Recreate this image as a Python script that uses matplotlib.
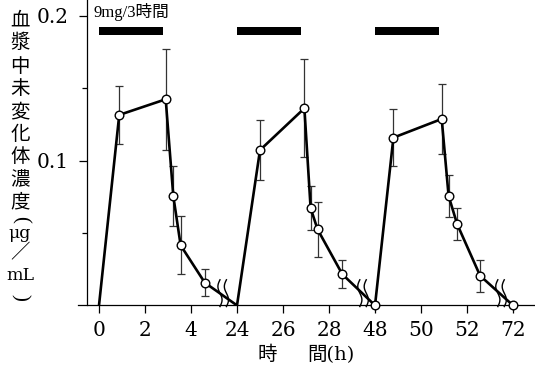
import numpy as np
import matplotlib
matplotlib.use("Agg")
import matplotlib.pyplot as plt

# ---- data ----
hours = [0, 0.88, 2.9, 3.23, 3.55, 4.6,
         24, 25.0, 26.93, 27.2, 27.5, 28.58,
         48, 48.8, 50.9, 51.2, 51.57, 52.57, 72]
conc = [0, 0.1316, 0.1424, 0.0756, 0.0415, 0.0157,
        0, 0.1073, 0.1362, 0.0673, 0.0526, 0.0215,
        0, 0.1159, 0.1288, 0.0756, 0.0562, 0.0205, 0]
sd = [0, 0.020, 0.035, 0.0205, 0.020, 0.0095,
      0, 0.0205, 0.034, 0.015, 0.019, 0.0097,
      0, 0.0195, 0.0245, 0.0142, 0.0113, 0.011, 0]
no_marker_hours = [0, 24]
dose_start = [0, 24, 48]
dose_duration = 2.8
dose_label = "9mg/3時間"
xticks = [0, 2, 4, 24, 26, 28, 48, 50, 52, 72]
yticks_major = [0.1, 0.2]
yticks_minor = [0.05, 0.15]
break_pos = [2.70, 5.74, 8.74]   # break marks, in compressed axis units
ylabel_chars = ['血', '漿', '中', '未', '変', '化', '体', '濃', '度', '(', 'μg', '／', 'mL', ')']
xlabel_parts = ['時', '間(h)']

# ---- broken time axis via function scale ----
def fwd(h):
    h = np.asarray(h, dtype=float)
    return np.where(h < 14, h / 2,
           np.where(h < 38, 3 + (h - 24) / 2,
           np.where(h < 62, 6 + (h - 48) / 2, 9 + (h - 72) / 2)))

def inv(p):
    p = np.asarray(p, dtype=float)
    return np.where(p < 2.7, 2 * p,
           np.where(p < 5.74, 24 + 2 * (p - 3),
           np.where(p < 8.74, 48 + 2 * (p - 6), 72 + 2 * (p - 9))))

W, H = 535, 365
fig = plt.figure(figsize=(W / 100, H / 100), dpi=100)
ax = fig.add_axes([78 / W, (H - 305.4) / H, (W - 78) / W, 305.4 / H])
ax.set_xscale('function', functions=(fwd, inv))
ax.set_xlim(float(inv(-0.4565)), float(inv(9.478)))
ax.set_ylim(0, 0.211)

for s in ['top', 'right']:
    ax.spines[s].set_visible(False)
ax.spines['left'].set_position(('data', float(inv(-0.26))))
for s in ['left', 'bottom']:
    ax.spines[s].set_linewidth(0.9)

serif = 'DejaVu Serif'
ax.set_xticks(xticks)
ax.set_xticklabels([str(t) for t in xticks], fontfamily=serif, fontsize=14.5)
ax.xaxis.set_minor_locator(matplotlib.ticker.NullLocator())
ax.set_yticks(yticks_major)
ax.set_yticklabels(['%.1f' % v for v in yticks_major], fontfamily=serif, fontsize=14.5)
ax.set_yticks(yticks_minor, minor=True)
ax.tick_params(axis='x', direction='out', length=6, width=0.9, pad=5)
ax.tick_params(axis='y', which='major', direction='out', length=6, width=0.9, pad=7)
ax.tick_params(axis='y', which='minor', direction='out', length=3.5, width=0.9)

# data line
ax.plot(hours, conc, color='black', lw=1.9, zorder=3)
# error bars
h_e = [h for h, s in zip(hours, sd) if s > 0]
c_e = [c for c, s in zip(conc, sd) if s > 0]
s_e = [s for s in sd if s > 0]
ax.errorbar(h_e, c_e, yerr=s_e, fmt='none', ecolor='#333333', elinewidth=0.9,
            capsize=3.2, capthick=0.9, zorder=2)
# markers
h_m = [h for h in hours if h not in no_marker_hours]
c_m = [c for h, c in zip(hours, conc) if h not in no_marker_hours]
ax.plot(h_m, c_m, 'o', ms=6.2, mfc='white', mec='black', mew=1.0, zorder=4,
        clip_on=False)

# dosing bars
ax.broken_barh([(s, dose_duration) for s in dose_start], (0.1866, 0.0060),
               facecolors='black', zorder=3)
ax.text(float(inv(-0.11)), 0.2025, dose_label, fontsize=12,
        family=['Liberation Serif', 'Noto Sans CJK JP'], ha='left', va='center')

# break marks
t = np.linspace(0, 1, 60)
yb = -0.0008 + t * 0.0185
for bp in break_pos:
    for off in (-0.07, 0.07):
        xb = inv(bp + off + 0.045 * np.sin(2 * np.pi * t))
        ax.plot(xb, yb, color='black', lw=1.0, zorder=5, clip_on=False)

# y label, stacked vertically
ycent = [20, 43, 66, 89, 112, 135, 157, 180, 202, 219, 234, 253, 276, 297]
for ch, yc in zip(ylabel_chars, ycent):
    if ch in ('μg', 'mL'):
        fig.text(20 / W, 1 - yc / H, ch, ha='center', va='center', fontsize=12.5,
                 family=['DejaVu Serif', 'Noto Sans CJK JP'])
    elif ch in ('(', ')'):
        fig.text(20 / W, 1 - yc / H, ch, ha='center', va='center', fontsize=15,
                 rotation=-90, family=['Liberation Serif'])
    else:
        fig.text(20 / W, 1 - yc / H, ch, ha='center', va='center', fontsize=14,
                 family=['Noto Sans CJK JP', 'DejaVu Sans'])

# x label
fig.text(267 / W, 1 - 355 / H, xlabel_parts[0], ha='center', va='center', fontsize=14,
         family=['Noto Sans CJK JP'])
fig.text(307 / W, 1 - 355 / H, xlabel_parts[1], ha='left', va='center', fontsize=14,
         family=['DejaVu Serif', 'Noto Sans CJK JP'])

fig.savefig('out.png', dpi=100)
